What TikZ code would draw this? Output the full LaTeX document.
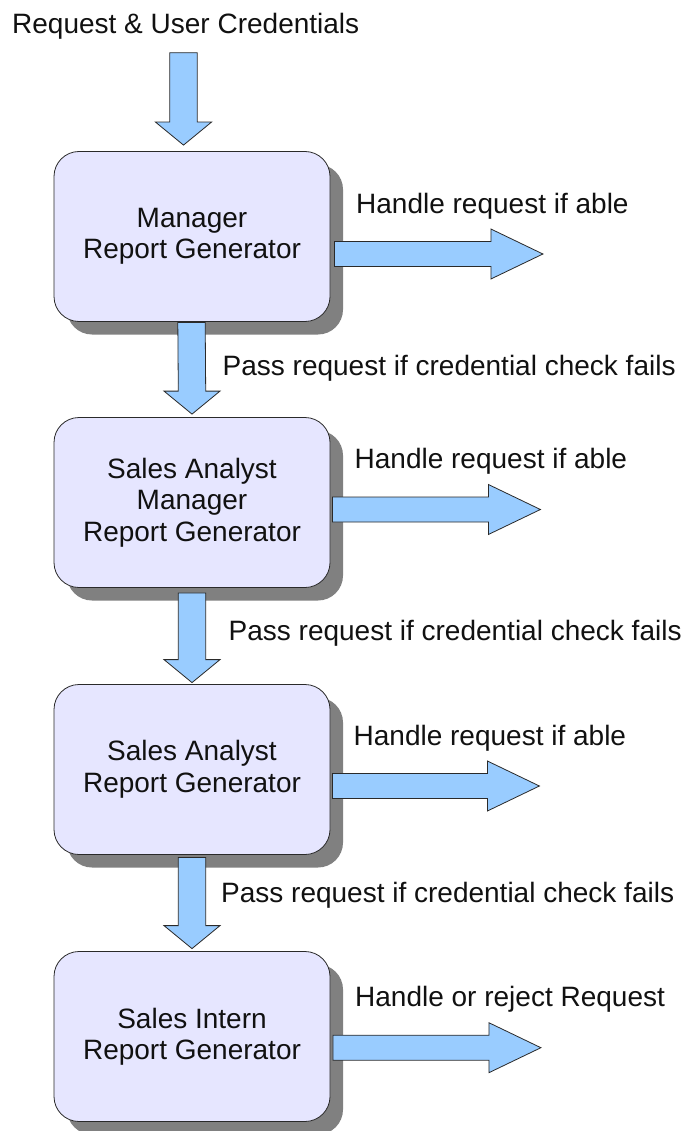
\documentclass[tikz,border=0pt]{standalone}
\usepackage{fontspec}
\setmainfont{Liberation Sans}
\usetikzlibrary{calc,shadows}
\definecolor{boxfill}{HTML}{E6E6FF}
\definecolor{arrowfill}{HTML}{99CCFF}
\definecolor{shadowgray}{HTML}{808080}
\definecolor{inkline}{HTML}{2A2A2A}
\definecolor{inktext}{HTML}{111111}
\newcommand{\blockdown}[2]{%
  \draw[blockarrow] ($#1+(-13.7,0)$) -- ($#1+(13.7,0)$) -- ($#2+(13.7,-23)$) -- ($#2+(28,-23)$) -- #2 -- ($#2+(-28,-23)$) -- ($#2+(-13.7,-23)$) -- cycle;}
\newcommand{\blockright}[2]{%
  \draw[blockarrow] ($#1+(0,-12.5)$) -- ($#2+(-52,-12.5)$) -- ($#2+(-52,-25)$) -- #2 -- ($#2+(-52,25)$) -- ($#2+(-52,12.5)$) -- ($#1+(0,12.5)$) -- cycle;}
\tikzset{
  box/.style={draw=inkline, line width=0.8pt, fill=boxfill, rounded corners=25pt,
    minimum width=276pt, minimum height=170pt, align=center, inner sep=0pt,
    text=inktext, font=\fontsize{28}{31.5}\selectfont,
    drop shadow={shadow xshift=13pt, shadow yshift=-13pt, fill=shadowgray, opacity=1}},
  blockarrow/.style={draw=inkline, line width=0.8pt, fill=arrowfill, line join=miter},
  lbl/.style={anchor=base west, inner sep=0pt, text=inktext, font=\fontsize{28}{31.5}\selectfont}
}
\begin{document}
\begin{tikzpicture}[x=1pt,y=-1pt]
\useasboundingbox[fill=white] (0,0) rectangle (688,1131);

% boxes
\node[box] (b1) at (192,236.5) {Manager\\Report Generator};
\node[box] (b2) at (192,502.5) {Sales Analyst\\Manager\\Report Generator};
\node[box] (b3) at (192,769.5) {Sales Analyst\\Report Generator};
\node[box] (b4) at (192,1036.5) {Sales Intern\\Report Generator};

% labels
\node[lbl] (title) at (12,33.3) {Request \& User Credentials};
\node[lbl] (h1) at (356,213.3) {Handle request if able};
\node[lbl] (h2) at (354.5,468.3) {Handle request if able};
\node[lbl] (h3) at (353.5,745.7) {Handle request if able};
\node[lbl] (h4) at (355,1006.7) {Handle or reject Request};
\node[lbl] (p1) at (222.5,375) {Pass request if credential check fails};
\node[lbl] (p2) at (228.5,640) {Pass request if credential check fails};
\node[lbl] (p3) at (221,902.3) {Pass request if credential check fails};

% down arrows
\coordinate (in) at (183.5,52.7);
\coordinate (t0) at ($(b1.north)+(-8.5,-6)$);
\blockdown{(in)}{(t0)}
\coordinate (s1) at ($(b1.south)+(-0.5,0.5)$);
\coordinate (t1) at ($(b2.north)+(0,-3)$);
\blockdown{(s1)}{(t1)}
\coordinate (s2) at ($(b2.south)+(0,5)$);
\coordinate (t2) at ($(b3.north)+(0,-1.5)$);
\blockdown{(s2)}{(t2)}
\coordinate (s3) at ($(b3.south)+(0,2.5)$);
\coordinate (t3) at ($(b4.north)+(0,-2.5)$);
\blockdown{(s3)}{(t3)}

% right arrows
\coordinate (r1s) at ($(b1.east)+(4,17.5)$);
\coordinate (r1e) at ($(b1.east)+(212.5,17.5)$);
\blockright{(r1s)}{(r1e)}
\coordinate (r2s) at ($(b2.east)+(2,7)$);
\coordinate (r2e) at ($(b2.east)+(210,7)$);
\blockright{(r2s)}{(r2e)}
\coordinate (r3s) at ($(b3.east)+(2,16.5)$);
\coordinate (r3e) at ($(b3.east)+(209,16.5)$);
\blockright{(r3s)}{(r3e)}
\coordinate (r4s) at ($(b4.east)+(2.5,11.2)$);
\coordinate (r4e) at ($(b4.east)+(210.5,11.2)$);
\blockright{(r4s)}{(r4e)}
\end{tikzpicture}
\end{document}
